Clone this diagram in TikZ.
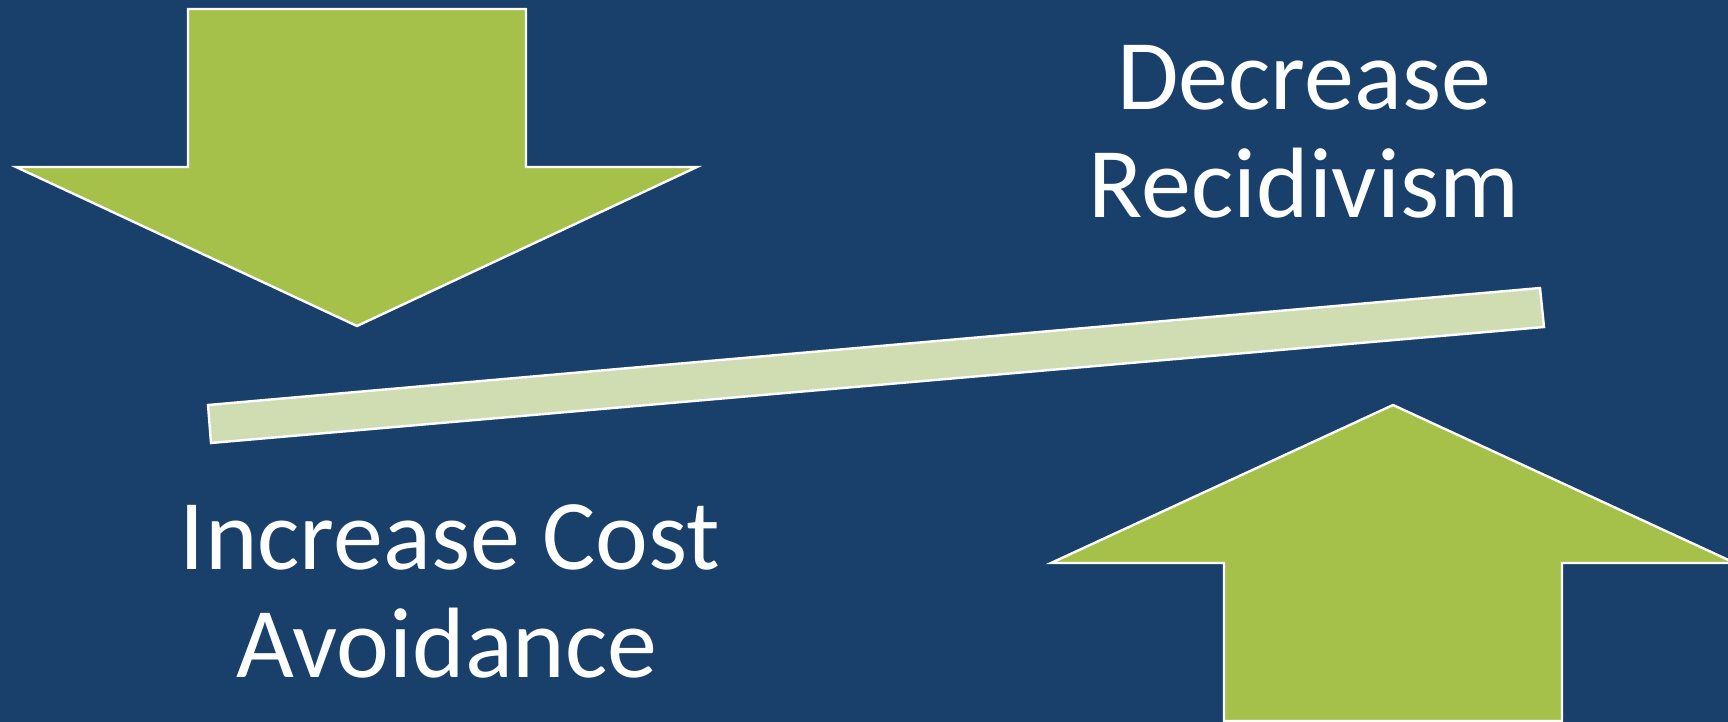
\documentclass[tikz,border=0pt]{standalone}
\usepackage{fontspec}
\setmainfont{Carlito}
\definecolor{navy}{RGB}{25,63,107}
\definecolor{leaf}{RGB}{166,193,74}
\definecolor{pale}{RGB}{208,220,178}
\tikzset{every picture/.style = {x=0.5pt, y=-0.5pt}}
\tikzset{arrowshape/.style = {fill=leaf, draw=white, line width=1.2pt, line join=miter}}
\tikzset{beam/.style = {fill=pale, draw=white, line width=1.2pt}}
\tikzset{caption/.style = {text=white, inner sep=0, anchor=base,
  font=\fontsize{50}{54}\selectfont}}

\begin{document}
\begin{tikzpicture}
  \fill[navy] (0, 0) rectangle (1728, 722);
  \useasboundingbox (0, 0) rectangle (1728, 722);
  \clip (0, 0) rectangle (1728, 722);
  % arrow pointing down
  \draw[arrowshape] (188, 9) -- (526, 9) -- (526, 167) -- (697, 167)
    -- (357, 326) -- (16, 167) -- (188, 167) -- cycle;
  % arrow pointing up
  \draw[arrowshape] (1224, 721) -- (1224, 563) -- (1051, 563)
    -- (1393, 405) -- (1735, 563) -- (1562, 563) -- (1562, 721) -- cycle;
  % tilted beam
  \draw[beam] (208, 405) -- (1540, 288) -- (1544, 327) -- (211, 443) -- cycle;
  % labels
  \node[caption] (dec1) at (1304, 110) {Decrease};
  \node[caption] (dec2) at (1304, 217) {Recidivism};
  \node[caption] (inc1) at (450, 569) {Increase Cost};
  \node[caption] (inc2) at (447, 677) {Avoidance};
\end{tikzpicture}
\end{document}
